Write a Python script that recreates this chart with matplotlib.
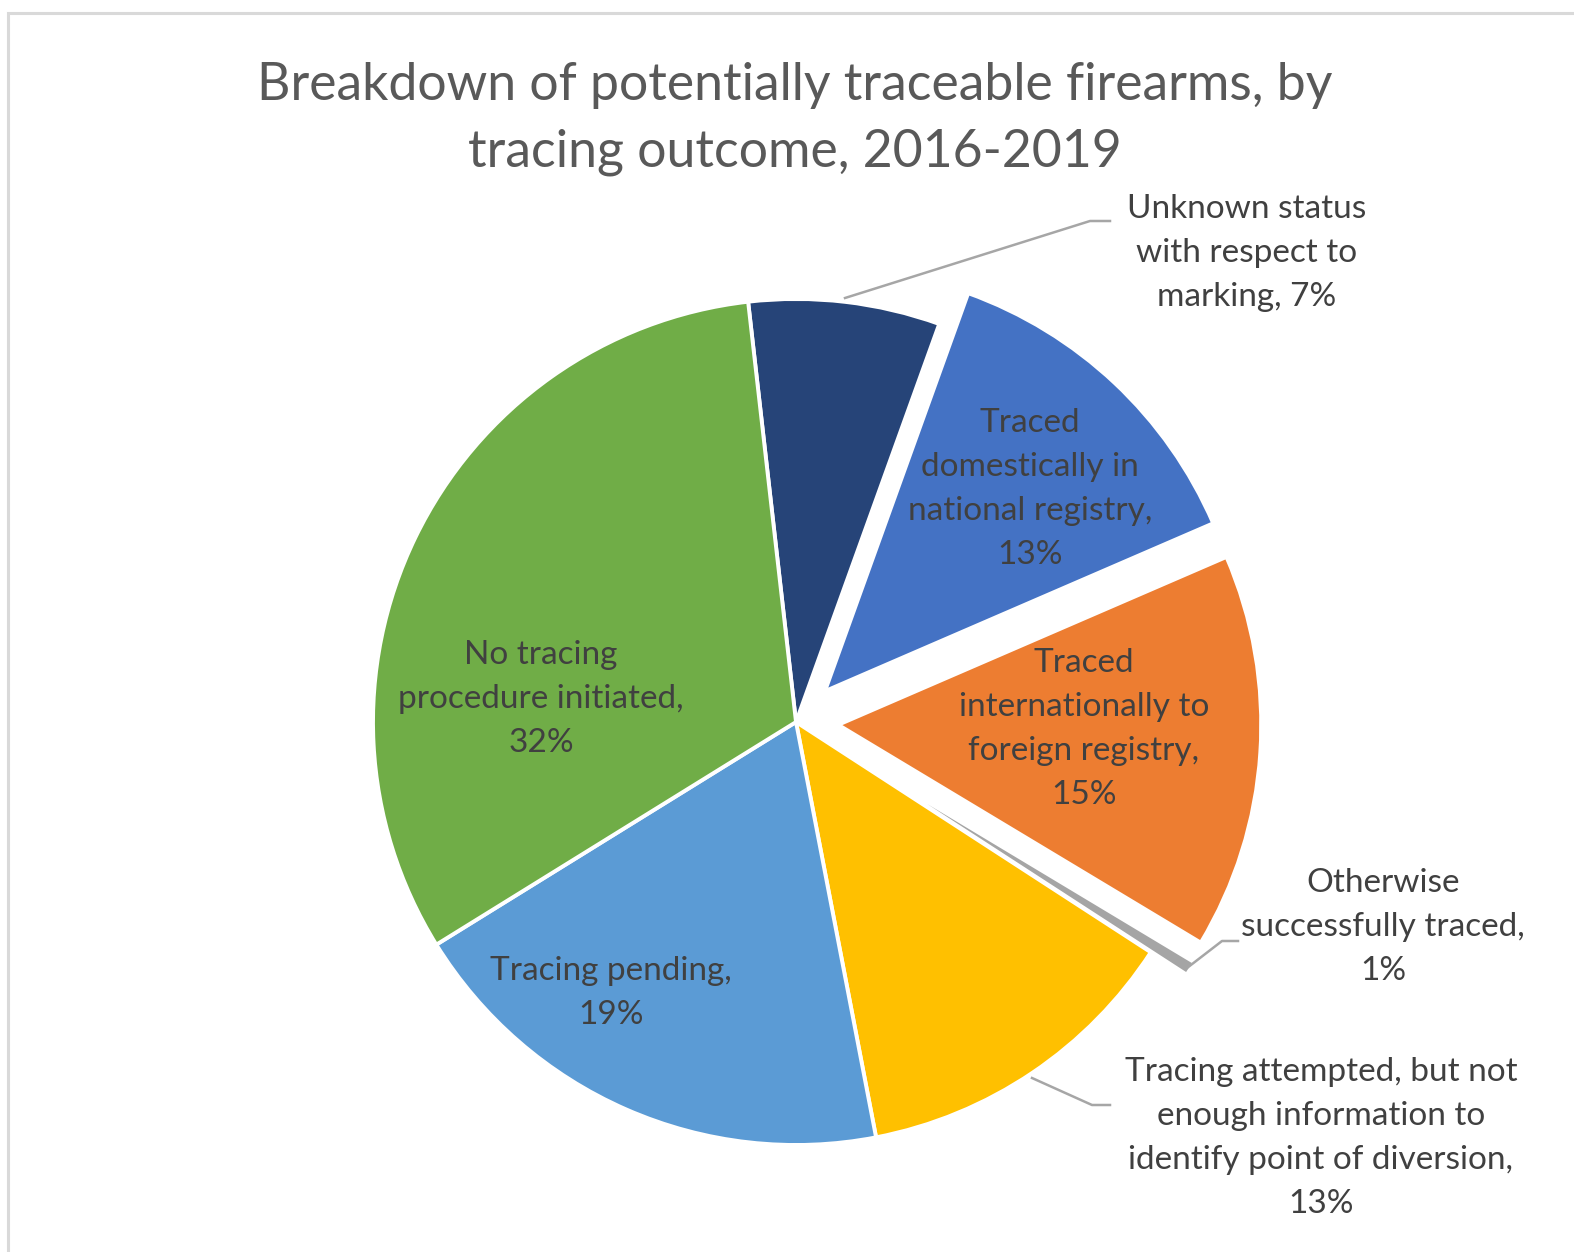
import matplotlib.pyplot as plt
from matplotlib.patches import Rectangle

# Data (share of potentially traceable firearms, %), clockwise from the top
categories = [
    "Unknown status\nwith respect to\nmarking",
    "Traced\ndomestically in\nnational registry",
    "Traced\ninternationally to\nforeign registry",
    "Otherwise\nsuccessfully traced",
    "Tracing attempted, but not\nenough information to\nidentify point of diversion",
    "Tracing pending",
    "No tracing\nprocedure initiated",
]
shares = [7.3, 13.0, 15.1, 0.55, 12.8, 19.2, 32.0]
colors = ['#264478', '#4472C4', '#ED7D31', '#A5A5A5', '#FFC000', '#5B9BD5', '#70AD47']
explode = [0, 0.1, 0.1, 0.1, 0, 0, 0]
# separator between name and percentage (Excel wrapped most of them)
seps = [", ", ",\n", ",\n", ",\n", ",\n", ",\n", ",\n"]

W, H = 1574, 1252
CX, CY, R = 796, 722, 423  # pie centre and radius in pixels


def px(x, y):
    """pixel position (from top-left) -> data units of the pie axes"""
    return (x - CX) / R, (CY - y) / R


plt.rcParams['font.family'] = ['Lato', 'DejaVu Sans']

fig = plt.figure(figsize=(W / 100, H / 100), dpi=100, facecolor='white')
ax = fig.add_axes([0, 0, 1, 1])
ax.axis('off')

# chart border like in Excel
fig.patches.append(Rectangle((8 / W, -0.05), 1.2, 1.05 - 13.5 / H, transform=fig.transFigure,
                             fill=False, edgecolor='#D9D9D9', linewidth=2.2))

ax.pie(shares, colors=colors, explode=explode, startangle=96.5, counterclock=False,
       radius=1, wedgeprops=dict(edgecolor='white', linewidth=2.8), frame=False)
ax.set_aspect('auto')
ax.set_xlim(-CX / R, (W - CX) / R)
ax.set_ylim(-(H - CY) / R, CY / R)

labels = [f"{c}{sep}{int(s + 0.5)}%" for c, sep, s in zip(categories, seps, shares)]
label_pos = [(1247, 253), (1030, 489), (1084, 729), (1383, 927), (1321, 1138), (611, 993), (541, 699)]
for lab, (x, y) in zip(labels, label_pos):
    ax.text(*px(x, y), lab, ha='center', va='center', fontsize=24, color='#404040',
            linespacing=1.57)

# leader lines
leaders = [
    [(845, 298), (1090, 221), (1110, 221)],
    [(1187, 968), (1222, 941), (1238, 941)],
    [(1032, 1078), (1092, 1105), (1110, 1105)],
]
for pts in leaders:
    xs, ys = zip(*[px(x, y) for x, y in pts])
    ax.plot(xs, ys, color='#A6A6A6', linewidth=1.8)

ax.text(*px(795, 119), "Breakdown of potentially traceable firearms, by\ntracing outcome, 2016-2019",
        ha='center', va='center', fontsize=37.3, color='#595959', linespacing=1.52)

fig.savefig('out.png', dpi=100, facecolor='white')
